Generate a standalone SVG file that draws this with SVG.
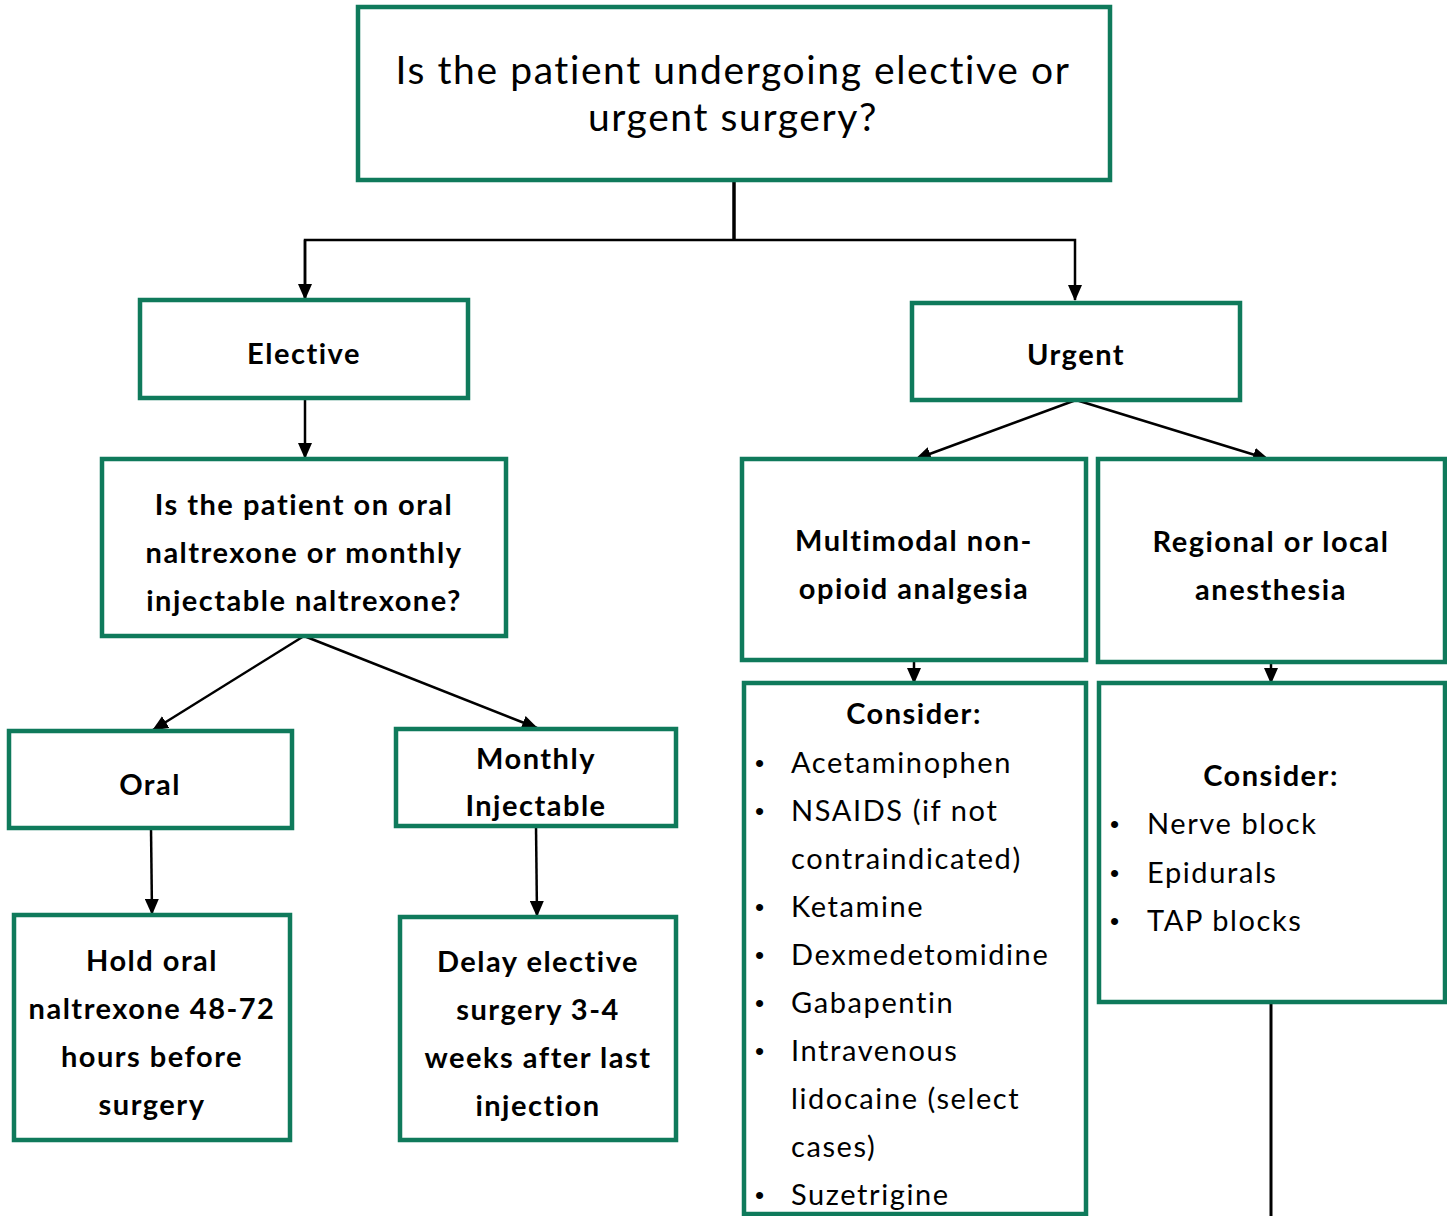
<svg xmlns="http://www.w3.org/2000/svg" width="1447" height="1216" viewBox="0 0 1447 1216">
<defs>
<marker id="ah" markerWidth="16" markerHeight="14" refX="15" refY="7" orient="auto" markerUnits="userSpaceOnUse">
<path d="M0,0 L16,7 L0,14 Z" fill="#000"/>
</marker>
<style>
.box{fill:#fff;stroke:#0f7a5b;stroke-width:4.5}
.t{font-family:Lato,"Liberation Sans",sans-serif;fill:#000}
.h{font-size:39px;text-anchor:middle;letter-spacing:1.6px}
.b{font-size:29px;font-weight:bold;text-anchor:middle;letter-spacing:1.5px}
.r{font-size:29px;letter-spacing:1.6px}
.bu{font-family:"Liberation Sans",sans-serif;font-size:26px;fill:#000}
.c{stroke:#000;stroke-width:2.5;fill:none}
</style>
</defs>
<rect width="1447" height="1216" fill="#fff"/>
<g id="connectors">
<line class="c" x1="734" y1="180" x2="734" y2="241" style="stroke-width:3.5"/>
<polyline class="c" points="305,298 305,240 1075,240 1075,300" marker-end="url(#ah)"/>
<line class="c" x1="305" y1="240" x2="305" y2="299" marker-end="url(#ah)"/>
<line class="c" x1="305" y1="398" x2="305" y2="458" marker-end="url(#ah)"/>
<line class="c" x1="304" y1="636" x2="153" y2="730" marker-end="url(#ah)"/>
<line class="c" x1="304" y1="636" x2="537" y2="728" marker-end="url(#ah)"/>
<line class="c" x1="151" y1="828" x2="152" y2="914" marker-end="url(#ah)"/>
<line class="c" x1="536" y1="826" x2="537" y2="916" marker-end="url(#ah)"/>
<line class="c" x1="1076" y1="400" x2="916" y2="459" marker-end="url(#ah)"/>
<line class="c" x1="1076" y1="400" x2="1268" y2="459" marker-end="url(#ah)"/>
<line class="c" x1="914" y1="660" x2="914" y2="683" marker-end="url(#ah)"/>
<line class="c" x1="1271" y1="662" x2="1271" y2="683" marker-end="url(#ah)"/>
<line class="c" x1="1271" y1="1002" x2="1271" y2="1216" style="stroke-width:3"/>
</g>
<g id="n-question">
<rect class="box" x="358" y="7" width="752" height="173"/>
<text class="t h" x="733" y="84">Is the patient undergoing elective or</text>
<text class="t h" x="733" y="131">urgent surgery?</text>
</g>
<g id="n-elective">
<rect class="box" x="140" y="300" width="328" height="98"/>
<text class="t b" x="304" y="364">Elective</text>
</g>
<g id="n-urgent">
<rect class="box" x="912" y="303" width="328" height="97"/>
<text class="t b" x="1076" y="365">Urgent</text>
</g>
<g id="n-oral-or-inj">
<rect class="box" x="102" y="459" width="404" height="177"/>
<text class="t b" x="304" y="515">Is the patient on oral</text>
<text class="t b" x="304" y="563">naltrexone or monthly</text>
<text class="t b" x="304" y="611">injectable naltrexone?</text>
</g>
<g id="n-oral">
<rect class="box" x="9" y="731" width="283" height="97"/>
<text class="t b" x="150" y="795">Oral</text>
</g>
<g id="n-monthly">
<rect class="box" x="396" y="729" width="280" height="97"/>
<text class="t b" x="536" y="769">Monthly</text>
<text class="t b" x="536" y="816">Injectable</text>
</g>
<g id="n-hold">
<rect class="box" x="14" y="915" width="276" height="225"/>
<text class="t b" x="152" y="971">Hold oral</text>
<text class="t b" x="152" y="1019">naltrexone 48-72</text>
<text class="t b" x="152" y="1067">hours before</text>
<text class="t b" x="152" y="1115">surgery</text>
</g>
<g id="n-delay">
<rect class="box" x="400" y="917" width="276" height="223"/>
<text class="t b" x="538" y="972">Delay elective</text>
<text class="t b" x="538" y="1020">surgery 3-4</text>
<text class="t b" x="538" y="1068">weeks after last</text>
<text class="t b" x="538" y="1116">injection</text>
</g>
<g id="n-multimodal">
<rect class="box" x="742" y="459" width="344" height="201"/>
<text class="t b" x="914" y="551">Multimodal non-</text>
<text class="t b" x="914" y="599">opioid analgesia</text>
</g>
<g id="n-regional">
<rect class="box" x="1098" y="459" width="347" height="203"/>
<text class="t b" x="1271" y="552">Regional or local</text>
<text class="t b" x="1271" y="600">anesthesia</text>
</g>
<g id="n-consider1">
<rect class="box" x="744" y="683" width="342" height="531"/>
<text class="t b" x="914" y="724">Consider:</text>
<g class="bu">
<text x="755" y="772">•</text><text x="755" y="820">•</text><text x="755" y="916">•</text><text x="755" y="964">•</text><text x="755" y="1012">•</text><text x="755" y="1060">•</text><text x="755" y="1204">•</text>
</g>
<g class="t r">
<text x="791" y="773">Acetaminophen</text>
<text x="791" y="821">NSAIDS (if not</text>
<text x="791" y="869">contraindicated)</text>
<text x="791" y="917">Ketamine</text>
<text x="791" y="965">Dexmedetomidine</text>
<text x="791" y="1013">Gabapentin</text>
<text x="791" y="1061">Intravenous</text>
<text x="791" y="1109">lidocaine (select</text>
<text x="791" y="1157">cases)</text>
<text x="791" y="1205">Suzetrigine</text>
</g>
</g>
<g id="n-consider2">
<rect class="box" x="1099" y="683" width="346" height="319"/>
<text class="t b" x="1271" y="786">Consider:</text>
<g class="bu">
<text x="1110" y="833">•</text><text x="1110" y="882">•</text><text x="1110" y="930">•</text>
</g>
<g class="t r">
<text x="1147" y="834">Nerve block</text>
<text x="1147" y="883">Epidurals</text>
<text x="1147" y="931">TAP blocks</text>
</g>
</g>
</svg>
